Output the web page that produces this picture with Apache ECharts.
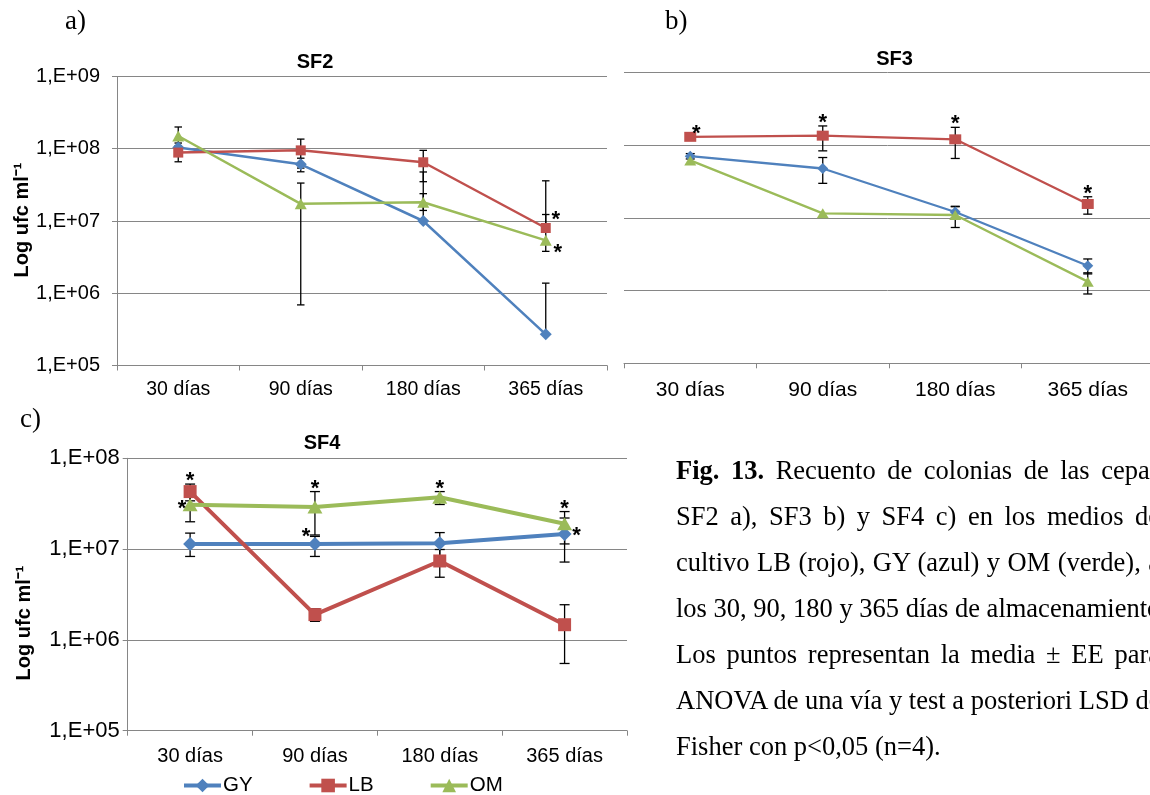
<!DOCTYPE html>
<html><head><meta charset="utf-8">
<script src="https://cdn.jsdelivr.net/npm/echarts@6/dist/echarts.min.js"></script>
<style>
html,body{margin:0;padding:0;width:1150px;height:795px;overflow:hidden;background:#fff;}
#chart{position:absolute;left:0;top:0;width:1150px;height:795px;}
#caption{position:absolute;left:676px;top:447px;width:484px;font-family:'Liberation Serif','Times New Roman',serif;font-size:26.5px;line-height:46px;color:#000;}
#caption div{white-space:nowrap;}
</style></head>
<body>
<div id="chart"></div>
<div id="caption"></div>
<script>
// ---------- data ----------
const categories = ['30 días', '90 días', '180 días', '365 días'];
const seriesNames = ['GY', 'LB', 'OM'];
const yTickLabels = {5: '1,E+05', 6: '1,E+06', 7: '1,E+07', 8: '1,E+08', 9: '1,E+09'};

// SF2 (a)
const sf2GY = [1.04e8, 6.1e7, 1.0e7, 2.7e5];
const sf2LB = [8.85e7, 9.5e7, 6.5e7, 8.0e6];
const sf2OM = [1.5e8, 1.73e7, 1.82e7, 5.4e6];
const sf2GYErr = [[1.2e8, 8.8e7], [7.4e7, 4.8e7], [4.77e7, null], [1.38e6, null]];
const sf2LBErr = [[1.1e8, 6.6e7], [1.36e8, 5.4e7], [9.5e7, 3.5e7], [3.6e7, null]];
const sf2OMErr = [[2.0e8, 1.0e8], [3.35e7, 6.9e5], [2.39e7, 1.4e7], [1.23e7, 3.8e6]];
const sf2Stars = [[3, 'LB', 'upperRight'], [3, 'OM', 'lowerRight']];

// SF3 (b)
const sf3GY = [7.1e7, 4.8e7, 1.21e7, 2.2e6];
const sf3LB = [1.31e8, 1.36e8, 1.21e8, 1.56e7];
const sf3OM = [6.2e7, 1.16e7, 1.1e7, 1.33e6];
const sf3GYErr = [[7.7e7, 6.5e7], [6.8e7, 3.0e7], [1.43e7, 1.0e7], [2.73e6, 1.7e6]];
const sf3LBErr = [[null, null], [1.85e8, 8.4e7], [1.77e8, 6.6e7], [1.96e7, 1.13e7]];
const sf3OMErr = [[null, null], [null, null], [1.45e7, 7.4e6], [1.76e6, 9.0e5]];
const sf3Stars = [[0, 'LB', 'aboveRight'], [1, 'LB', 'above'], [2, 'LB', 'above'], [3, 'LB', 'above']];

// SF4 (c)
const sf4GY = [1.14e7, 1.14e7, 1.16e7, 1.47e7];
const sf4LB = [4.3e7, 1.9e6, 7.4e6, 1.47e6];
const sf4OM = [3.07e7, 2.9e7, 3.73e7, 1.9e7];
const sf4GYErr = [[1.5e7, 8.3e6], [1.38e7, 8.3e6], [1.52e7, 8.0e6], [2.2e7, 7.2e6]];
const sf4LBErr = [[5.2e7, 3.4e7], [2.2e6, 1.6e6], [9.9e6, 4.9e6], [2.44e6, 5.5e5]];
const sf4OMErr = [[4.1e7, 2.0e7], [4.3e7, 1.43e7], [4.3e7, 3.1e7], [2.59e7, 1.14e7]];
const sf4Stars = [[0, 'LB', 'above'], [0, 'OM', 'left'], [1, 'OM', 'above'], [1, 'GY', 'upperLeft'],
                  [2, 'OM', 'above'], [3, 'OM', 'above'], [3, 'GY', 'right']];

const panelTitles = ['SF2', 'SF3', 'SF4'];
const panelLetters = ['a)', 'b)', 'c)'];
const yAxisName = 'Log ufc ml⁻¹';
const captionBold = 'Fig. 13.';
const captionLines = [
  ' Recuento de colonias de las cepas',
  'SF2 a), SF3 b) y SF4 c) en los medios de',
  'cultivo LB (rojo), GY (azul) y OM (verde), a',
  'los 30, 90, 180 y 365 días de almacenamiento.',
  'Los puntos representan la media ± EE para',
  'ANOVA de una vía y test a posteriori LSD de',
  'Fisher con p<0,05 (n=4).'
];

// ---------- layout / style (not data) ----------
const FONT = '"Liberation Sans", Arial, sans-serif';
const SERIF = '"Liberation Serif", "Times New Roman", serif';
const colors = {GY: '#4F81BD', LB: '#C0504D', OM: '#9BBB59'};
const symbols = {GY: 'diamond', LB: 'rect', OM: 'triangle'};
const AXIS_GRAY = '#868686';

const panels = [
  {vals: {GY: sf2GY, LB: sf2LB, OM: sf2OM}, errs: {GY: sf2GYErr, LB: sf2LBErr, OM: sf2OMErr}, stars: sf2Stars},
  {vals: {GY: sf3GY, LB: sf3LB, OM: sf3OM}, errs: {GY: sf3GYErr, LB: sf3LBErr, OM: sf3OMErr}, stars: sf3Stars},
  {vals: {GY: sf4GY, LB: sf4LB, OM: sf4OM}, errs: {GY: sf4GYErr, LB: sf4LBErr, OM: sf4OMErr}, stars: sf4Stars}
];
const look = [
  {grid: {left: 117, top: 76.5, width: 490, height: 289}, ymin: 1e5, ymax: 1e9, lw: 2.5,
   sizes: {GY: 12, LB: 10, OM: [12, 11]}, yLabel: true, yFont: 20, yMargin: 17, xFont: 19.5, xMargin: 14,
   title: [315, 62], letter: [65, 22], yName: [22.5, 220], cap: 7.5},
  {grid: {left: 624, top: 72.7, width: 530, height: 290.6}, ymin: 1e5, ymax: 1e9, lw: 2.3,
   sizes: {GY: 11, LB: [12, 10], OM: [12, 10]}, yLabel: false, xFont: 21, xMargin: 16,
   title: [894.5, 59], letter: [665, 22], cap: 9},
  {grid: {left: 127.7, top: 458.3, width: 499.3, height: 272.4}, ymin: 1e5, ymax: 1e8, lw: 4,
   sizes: {GY: 14, LB: 13, OM: [15, 13]}, yLabel: true, yFont: 22, yMargin: 8, xFont: 20, xMargin: 16,
   title: [322, 443], letter: [20, 420], yName: [24, 623], cap: 10}
];
const starOffsets = {
  above: [0, -9, 'cap'], aboveRight: [6, -9, 'point'], upperRight: [10, -14, 'point'],
  lowerRight: [12, 7, 'point'], right: [12, -4, 'point'], left: [-8, -2, 'point'], upperLeft: [-9, -13, 'point']
};
const STAR_DY = 6; // glyph sits high in its em box

// ---------- build option ----------
const grids = [], xAxes = [], yAxes = [], series = [], graphics = [];

look.forEach((L, i) => {
  grids.push(Object.assign({containLabel: false, outerBoundsMode: 'none'}, L.grid));
  xAxes.push({
    type: 'category', gridIndex: i, data: categories, boundaryGap: true,
    axisLine: {show: true, lineStyle: {color: AXIS_GRAY, width: 1}},
    axisTick: {show: true, length: 5, inside: false, lineStyle: {color: AXIS_GRAY, width: 1}},
    axisLabel: {color: '#000', fontSize: L.xFont, fontFamily: FONT, margin: L.xMargin},
    splitLine: {show: false}
  });
  yAxes.push({
    type: 'log', logBase: 10, gridIndex: i, min: L.ymin, max: L.ymax,
    axisLine: {show: L.yLabel, lineStyle: {color: AXIS_GRAY, width: 1}},
    axisTick: {show: L.yLabel, length: 5, inside: false, lineStyle: {color: AXIS_GRAY, width: 1}},
    axisLabel: {show: L.yLabel, color: '#000', fontSize: L.yFont || 20, fontFamily: FONT, margin: L.yMargin || 8,
      formatter: v => yTickLabels[Math.round(Math.log10(v))] || ''},
    splitLine: {show: true, lineStyle: {color: AXIS_GRAY, width: 1}}
  });
  graphics.push({type: 'text', x: L.title[0], y: L.title[1], z: 10,
    style: {text: panelTitles[i], font: 'bold 20px ' + FONT, fill: '#000', textAlign: 'center', textVerticalAlign: 'middle'}});
  graphics.push({type: 'text', x: L.letter[0], y: L.letter[1], z: 10,
    style: {text: panelLetters[i], font: '27px ' + SERIF, fill: '#000', textAlign: 'left', textVerticalAlign: 'middle'}});
  if (L.yName) {
    graphics.push({type: 'text', x: L.yName[0], y: L.yName[1], rotation: Math.PI / 2, z: 10,
      style: {text: yAxisName, font: 'bold 20px ' + FONT, fill: '#000', textAlign: 'center', textVerticalAlign: 'middle'}});
  }
});

// line series: panel c first so the legend takes its style
[2, 0, 1].forEach(i => {
  const L = look[i], P = panels[i];
  seriesNames.forEach(name => {
    series.push({
      type: 'line', name: name, xAxisIndex: i, yAxisIndex: i, data: P.vals[name],
      symbol: symbols[name], symbolSize: L.sizes[name], showAllSymbol: true, z: 3,
      lineStyle: {color: colors[name], width: L.lw},
      itemStyle: {color: colors[name], borderWidth: 0},
      emphasis: {disabled: true}, animation: false
    });
  });
});

// error bars
panels.forEach((P, i) => {
  const L = look[i];
  const data = [];
  seriesNames.forEach(name => {
    P.errs[name].forEach((e, k) => {
      const v = P.vals[name][k];
      const hasHi = e[0] != null ? 1 : 0, hasLo = e[1] != null ? 1 : 0;
      if (hasHi || hasLo) data.push([k, v, hasHi ? e[0] : v, hasLo ? e[1] : v, hasHi, hasLo]);
    });
  });
  series.push({
    type: 'custom', xAxisIndex: i, yAxisIndex: i, z: 2, silent: true, animation: false,
    dimensions: ['x', 'v', 'hi', 'lo', 'hasHi', 'hasLo'], encode: {x: 0, y: 1},
    data: data,
    renderItem: (params, api) => {
      const x = api.value(0);
      const pv = api.coord([x, api.value(1)]);
      const ph = api.coord([x, api.value(2)]);
      const pl = api.coord([x, api.value(3)]);
      const cw = L.cap / 2, st = {stroke: '#000', lineWidth: 1.3};
      const ch = [{type: 'line', shape: {x1: pv[0], y1: ph[1], x2: pv[0], y2: pl[1]}, style: st}];
      if (api.value(4)) ch.push({type: 'line', shape: {x1: pv[0] - cw, y1: ph[1], x2: pv[0] + cw, y2: ph[1]}, style: st});
      if (api.value(5)) ch.push({type: 'line', shape: {x1: pv[0] - cw, y1: pl[1], x2: pv[0] + cw, y2: pl[1]}, style: st});
      return {type: 'group', children: ch};
    }
  });
  // significance asterisks
  const sdata = P.stars.map(s => {
    const k = s[0], name = s[1], off = starOffsets[s[2]];
    const v = P.vals[name][k];
    const hi = P.errs[name][k][0];
    const anchor = (off[2] === 'cap' && hi != null) ? Math.max(hi, v) : v;
    return [k, anchor, off[0], off[1]];
  });
  series.push({
    type: 'custom', xAxisIndex: i, yAxisIndex: i, z: 5, silent: true, animation: false,
    dimensions: ['x', 'v', 'dx', 'dy'], encode: {x: 0, y: 1},
    data: sdata,
    renderItem: (params, api) => {
      const p = api.coord([api.value(0), api.value(1)]);
      return {type: 'text', x: p[0] + api.value(2), y: p[1] + api.value(3) + STAR_DY,
        style: {text: '*', font: 'bold 22px ' + FONT, fill: '#000', textAlign: 'center', textVerticalAlign: 'middle'}};
    }
  });
});

const chart = echarts.init(document.getElementById('chart'), null, {renderer: 'canvas'});
chart.setOption({
  animation: false,
  backgroundColor: '#fff',
  grid: grids, xAxis: xAxes, yAxis: yAxes, series: series, graphic: graphics,
  legend: {
    data: seriesNames, left: 182, top: 775, padding: 0, itemWidth: 37, itemHeight: 17, itemGap: 55,
    selectedMode: false, lineStyle: {width: 4},
    textStyle: {fontSize: 20.5, fontFamily: FONT, color: '#000', padding: [0, 0, 0, -3]}
  },
  tooltip: {show: false}
});

// ---------- caption (justified) ----------
const cap = document.getElementById('caption');
const W = 484;
captionLines.forEach((t, i) => {
  const d = document.createElement('div');
  const sp = document.createElement('span');
  if (i === 0) {
    const b = document.createElement('b');
    b.textContent = captionBold;
    sp.appendChild(b);
  }
  sp.appendChild(document.createTextNode(t));
  d.appendChild(sp);
  cap.appendChild(d);
  if (i < captionLines.length - 1) {
    const full = (i === 0 ? captionBold : '') + t;
    const spaces = (full.match(/ /g) || []).length;
    const w = sp.getBoundingClientRect().width;
    if (spaces > 0 && w < W) sp.style.wordSpacing = ((W - w) / spaces) + 'px';
  }
});
</script>
</body></html>
